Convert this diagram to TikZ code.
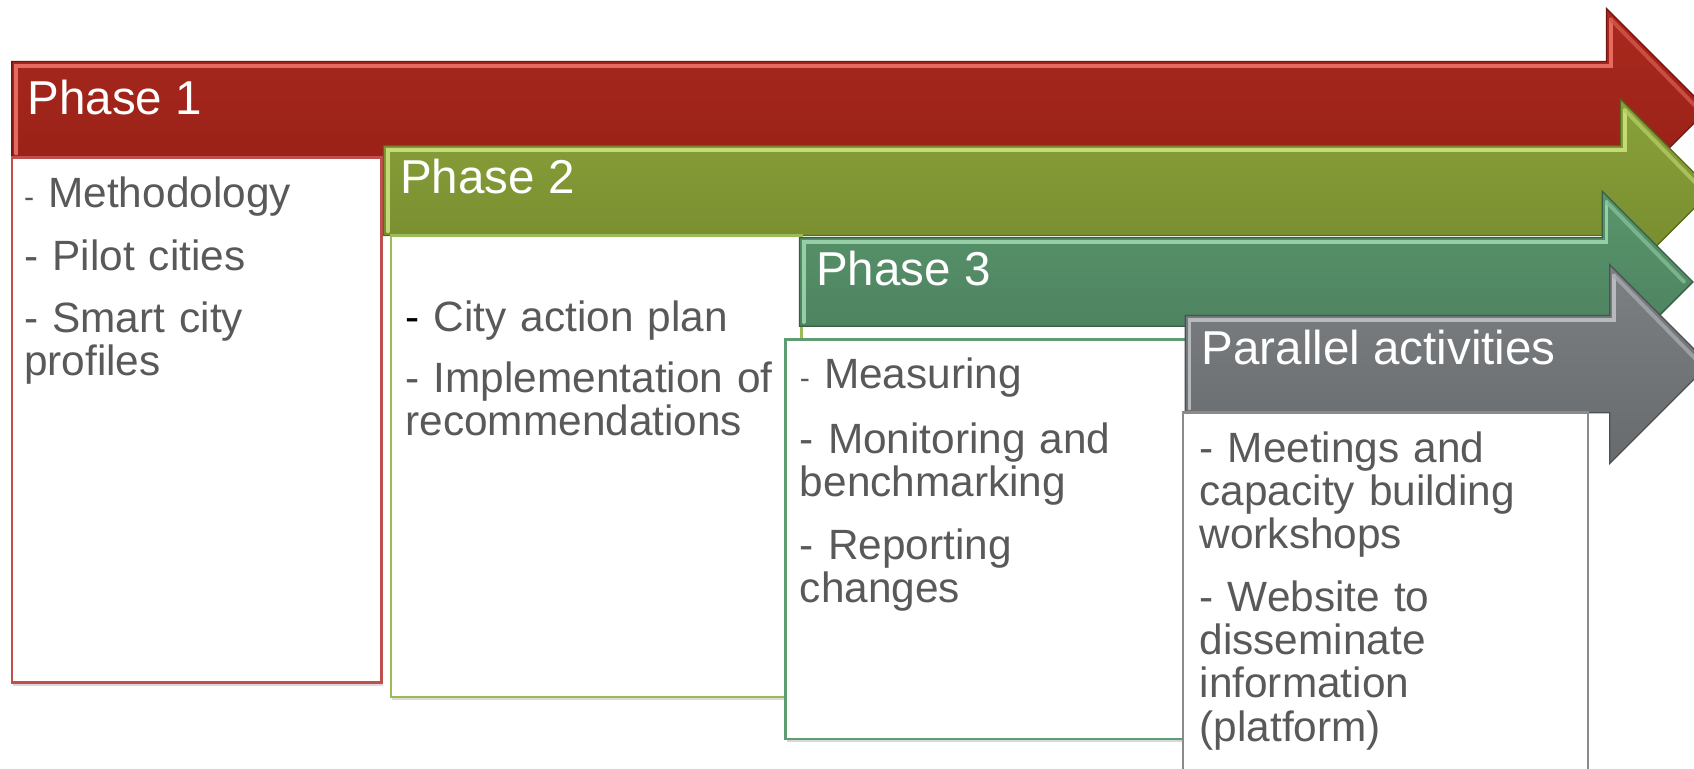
\documentclass[tikz,border=0pt]{standalone}
\usepackage{fontspec}
\setmainfont{Liberation Sans}
\usetikzlibrary{fit,shadows}
\definecolor{redL}{HTML}{F2766B}
\definecolor{redM}{HTML}{A9291E}
\definecolor{redD}{HTML}{961F16}
\definecolor{redB}{HTML}{C0504D}
\definecolor{grnL}{HTML}{D0E682}
\definecolor{grnM}{HTML}{89A23A}
\definecolor{grnD}{HTML}{76892E}
\definecolor{grnB}{HTML}{9BBB59}
\definecolor{tealL}{HTML}{A2DAB2}
\definecolor{tealM}{HTML}{58956C}
\definecolor{tealD}{HTML}{4B7E5C}
\definecolor{tealB}{HTML}{5E9C72}
\definecolor{gryL}{HTML}{C3C6C8}
\definecolor{gryM}{HTML}{7C8083}
\definecolor{gryD}{HTML}{676B6E}
\definecolor{gryB}{HTML}{8A8A8A}
\definecolor{txt}{HTML}{595959}
\newcommand{\phasearrow}[8]{%
  \pgfmathsetmacro\arrMid{(#2+#3)/2}%
  \pgfmathsetmacro\arrHalf{\arrMid-#5}%
  \pgfmathsetmacro\arrHB{\arrMid+\arrHalf}%
  \pgfmathsetmacro\arrTip{#4+\arrHalf}%
  \shade[top color=#7, bottom color=#8, draw=#8!75!black, line width=0.6]
    (#1,#2) -- (#4,#2) -- (#4,#5) -- (\arrTip,\arrMid) -- (#4,\arrHB) -- (#4,#3) -- (#1,#3) -- cycle;
  \draw[#6, line width=1.8, line cap=round, opacity=0.85] (#1+4,#3-4) -- (#1+4,#2+4) -- (#4+4,#2+4) -- (#4+4,#5+10);
  \draw[#6!60!#7, line width=1.8, line cap=round, opacity=0.8] (#4+4,#5+10) -- (\arrTip-8,\arrMid);
}
\tikzset{
  box/.style={fill=white, line width=1.2, inner sep=0pt,
    drop shadow={shadow xshift=0.6pt, shadow yshift=-1.6pt, opacity=0.3}},
  phaselabel/.style={text=white, font=\fontsize{22}{24}\selectfont, anchor=base west, inner sep=0pt},
  items/.style={text=txt, font=\fontsize{19.6}{20}\selectfont, anchor=base west, inner sep=0pt,
    align=left, text width=200pt},
}
\begin{document}
\begin{tikzpicture}[x=0.5pt,y=-0.5pt]
\useasboundingbox (0,0) rectangle (1568,711);
% Phase 1
\phasearrow{11}{57}{146}{1487}{8}{redL}{redM}{redD}
\node[phaselabel] (p1) at (25,106) {Phase 1};
\node[box, draw=redB, fit={(11,146)(353,632)}] (box1) {};
\node[items] (t1) at (22,192) {{\fontsize{14}{20}\selectfont -} Methodology\\[9pt]
- Pilot cities\\[9pt]
- Smart city\\profiles};
% Phase 2
\phasearrow{355}{135}{218}{1500}{92}{grnL}{grnM}{grnD}
\node[phaselabel] (p2) at (370,179) {Phase 2};
\node[box, draw=grnB, fit={(362,218)(742,645)}] (box2) {};
\node[items] (t2) at (375,307) {\textcolor{black}{-} City action plan\\[8pt]
- Implementation of\\recommendations};
% Phase 3
\phasearrow{740}{220}{302}{1483}{177}{tealL}{tealM}{tealD}
\node[phaselabel] (p3) at (755,264) {Phase 3};
\node[box, draw=tealB, fit={(727,314)(1110,684)}] (box3) {};
\node[items] (t3) at (740,360) {{\fontsize{14}{20}\selectfont -} Measuring\\[10pt]
- Monitoring and\\benchmarking\\[9pt]
- Reporting\\changes};
% Parallel activities
\phasearrow{1097}{292}{382}{1490}{245}{gryL}{gryM}{gryD}
\node[phaselabel] (p4) at (1112,337) {Parallel activities};
\node[box, draw=gryB, fit={(1095,382)(1470,730)}] (box4) {};
\node[items] (t4) at (1110,428) {- Meetings and\\capacity building\\workshops\\[9pt]
- Website to\\disseminate\\information\\(platform)};
\end{tikzpicture}
\end{document}
